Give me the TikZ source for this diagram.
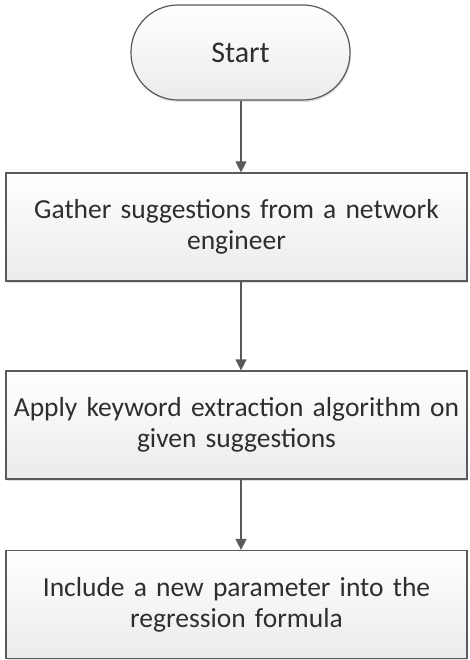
\documentclass[tikz,border=0pt]{standalone}
\usepackage{fontspec}
\setmainfont{Carlito}
\usetikzlibrary{arrows.meta,shadows}
\definecolor{edgegray}{HTML}{5A5A5A}
\definecolor{textgray}{HTML}{2E2E2E}
\definecolor{fillbottom}{HTML}{EAEBED}
\tikzset{
  x=1pt, y=-1pt,
  flowbase/.style={draw=edgegray, line width=1.2pt, top color=white, bottom color=fillbottom,
    text=textgray, align=center,
    drop shadow={shadow xshift=1pt, shadow yshift=-2pt, opacity=0.25, fill=gray}},
  terminal/.style={flowbase, rectangle, rounded corners=47pt, minimum width=219pt, minimum height=95pt,
    inner sep=0pt, font=\fontsize{30}{31}\selectfont},
  process/.style={flowbase, rectangle, minimum width=461pt, minimum height=108pt, text width=450pt,
    inner sep=0pt, font=\fontsize{27.5}{31}\selectfont},
  flow/.style={draw=edgegray, line width=1.2pt, -{Triangle[length=11pt,width=11pt]}}
}
\begin{document}
\begin{tikzpicture}
\useasboundingbox (0,0) rectangle (469,660);
\node[terminal] (start) at (240.5,52.5) {Start};
\node[process] (gather) at (236.5,227) {Gather suggestions from a network\\engineer};
\node[process] (apply) at (236.5,425) {Apply keyword extraction algorithm on\\given suggestions};
\node[process] (include) at (236.5,604.5) {Include a new parameter into the\\regression formula};
\draw[flow] (start.south -| 241,0) -- (gather.north -| 241,0);
\draw[flow] (gather.south -| 241,0) -- (apply.north -| 241,0);
\draw[flow] (apply.south -| 241,0) -- (include.north -| 241,0);
\end{tikzpicture}
\end{document}
